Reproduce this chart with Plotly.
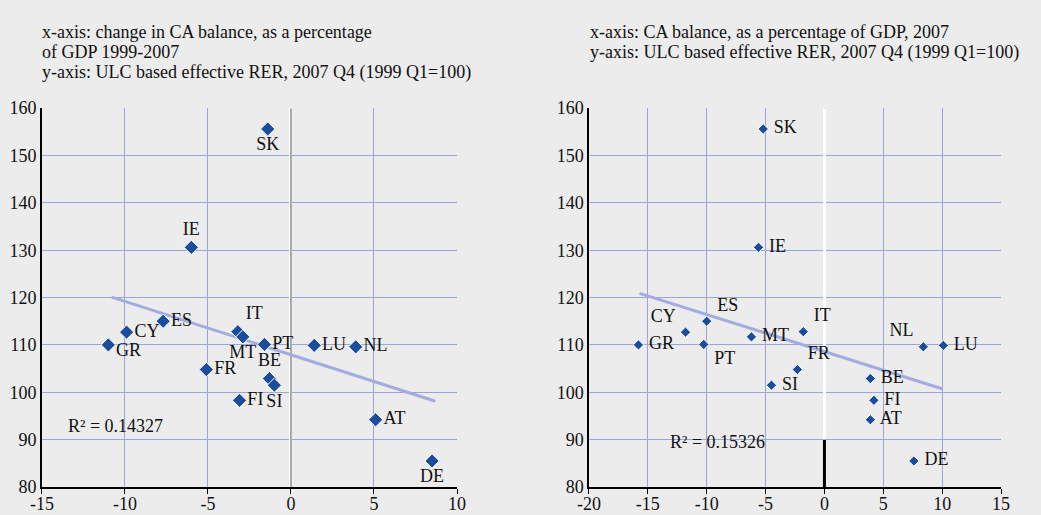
import plotly.graph_objects as go

# country codes and values
countries = ['GR', 'CY', 'ES', 'IE', 'FR', 'IT', 'MT', 'FI', 'PT', 'SK', 'BE', 'SI', 'LU', 'NL', 'AT', 'DE']
rer_2007q4 = [110.0, 112.7, 115.0, 130.6, 104.8, 112.8, 111.7, 98.3, 110.1, 155.6, 102.9, 101.5, 109.9, 109.6, 94.2, 85.5]
ca_change = [-11.0, -9.9, -7.7, -6.0, -5.1, -3.2, -2.9, -3.1, -1.6, -1.4, -1.3, -1.0, 1.4, 3.9, 5.1, 8.5]
ca_2007 = [-15.8, -11.8, -10.0, -5.6, -2.3, -1.8, -6.2, 4.2, -10.25, -5.2, 3.9, -4.5, 10.1, 8.4, 3.9, 7.6]

# linear trend end points
trend_left_x = [-10.8, 8.7]
trend_left_y = [120.1, 98.1]
trend_right_x = [-15.7, 10.05]
trend_right_y = [120.9, 100.7]

# tick labels
left_xticks = [-15, -10, -5, 0, 5, 10]
right_xticks = [-20, -15, -10, -5, 0, 5, 10, 15]

r2_left = 'R² = 0.14327'
r2_right = 'R² = 0.15326'

title_left = ['x-axis: change in CA balance, as a percentage',
              'of GDP 1999-2007',
              'y-axis: ULC based effective RER, 2007 Q4 (1999 Q1=100)']
title_right = ['x-axis: CA balance, as a percentage of GDP, 2007',
               'y-axis: ULC based effective RER, 2007 Q4 (1999 Q1=100)']

pos_left = {'GR': 'middle right', 'CY': 'middle right', 'ES': 'middle right', 'IE': 'top center',
            'FR': 'middle right', 'IT': 'top right', 'MT': 'bottom center', 'FI': 'middle right',
            'PT': 'middle right', 'SK': 'bottom center', 'BE': 'top center', 'SI': 'bottom center',
            'LU': 'middle right', 'NL': 'middle right', 'AT': 'middle right', 'DE': 'bottom center'}
pos_right = {'GR': 'middle right', 'CY': 'top left', 'ES': 'top right', 'IE': 'middle right',
             'FR': 'top right', 'IT': 'top right', 'MT': 'middle right', 'FI': 'middle right',
             'PT': 'bottom right', 'SK': 'middle right', 'BE': 'middle right', 'SI': 'middle right',
             'LU': 'middle right', 'NL': 'top left', 'AT': 'middle right', 'DE': 'middle right'}

FONT = 'Liberation Serif'
BG = '#ECECEC'
GRID = '#9AA4DC'
TREND = '#A3ACE0'
DOT = '#1A4E9C'
TXT = '#111111'

fig = go.Figure()

# GR label on the left panel sits a little lower, drawn separately below
left_text = ['' if c == 'GR' else c for c in countries]

fig.add_trace(go.Scatter(x=trend_left_x, y=trend_left_y, mode='lines',
                         line=dict(color=TREND, width=3), xaxis='x', yaxis='y'))
fig.add_trace(go.Scatter(x=ca_change, y=rer_2007q4, mode='markers+text', text=left_text,
                         textposition=[pos_left[c] for c in countries],
                         textfont=dict(family=FONT, size=18, color=TXT),
                         marker=dict(symbol='diamond', size=11, color=DOT, line=dict(color='white', width=1)),
                         xaxis='x', yaxis='y'))

fig.add_trace(go.Scatter(x=trend_right_x, y=trend_right_y, mode='lines',
                         line=dict(color=TREND, width=3), xaxis='x2', yaxis='y2'))
fig.add_trace(go.Scatter(x=ca_2007, y=rer_2007q4, mode='markers+text',
                         text=[' ' + c + ' ' for c in countries],
                         textposition=[pos_right[c] for c in countries],
                         textfont=dict(family=FONT, size=18, color=TXT),
                         marker=dict(symbol='diamond', size=8, color=DOT, line=dict(color='white', width=1)),
                         xaxis='x2', yaxis='y2'))

gr = countries.index('GR')
fig.add_annotation(text='GR', xref='x', yref='y', x=ca_change[gr], y=rer_2007q4[gr], xanchor='left',
                   yanchor='middle', xshift=6, yshift=-5, showarrow=False, font=dict(family=FONT, size=18))

ydom = [0.0544, 0.79]
xax = dict(showgrid=True, gridcolor=GRID, gridwidth=1, zeroline=True, zerolinecolor='white', zerolinewidth=3,
           showline=True, linecolor='black', linewidth=1.5, ticks='outside', ticklen=5, tickcolor='black',
           ticklabelstandoff=-5,
           tickfont=dict(family=FONT, size=18, color=TXT), automargin=False)
yax = dict(range=[80, 160], dtick=10, showgrid=True, gridcolor=GRID, gridwidth=1, zeroline=False,
           showline=True, linecolor='black', linewidth=1.5, ticks='', domain=ydom, automargin=False,
           tickfont=dict(family=FONT, size=18, color=TXT))
yax_r = dict(range=[80, 160], dtick=10, showgrid=False, zeroline=False, side='right', automargin=False,
             showline=True, linecolor='black', linewidth=1.5, ticks='',
             tickfont=dict(family=FONT, size=18, color=TXT))

fig.update_layout(
    width=1041, height=515, showlegend=False,
    paper_bgcolor=BG, plot_bgcolor=BG,
    margin=dict(l=0, r=0, t=0, b=0),
    font=dict(family=FONT, size=18, color=TXT),
    xaxis=dict(xax, range=[-15, 10], domain=[0.0403, 0.439], anchor='y',
               tickvals=left_xticks, ticktext=[str(v) for v in left_xticks]),
    yaxis=dict(yax, anchor='x'),
    xaxis2=dict(xax, range=[-20, 15], domain=[0.5658, 0.9616], anchor='y2', zeroline=False,
                tickvals=right_xticks, ticktext=[str(v) for v in right_xticks]),
    yaxis2=dict(yax, anchor='x2'),
    yaxis3=dict(yax_r, overlaying='y', anchor='x'),
    yaxis4=dict(yax_r, overlaying='y2', anchor='x2'),
)

# zero line of the right panel: white above 90, black below
fig.add_shape(type='line', xref='x2', yref='y2', x0=0, x1=0, y0=90, y1=160, layer='between',
              line=dict(color='white', width=3))
fig.add_shape(type='line', xref='x2', yref='y2', x0=0, x1=0, y0=80, y1=90, layer='between',
              line=dict(color='black', width=3))
fig.add_shape(type='line', xref='x', yref='y', x0=0, x1=0, y0=80, y1=160, layer='between',
              line=dict(color='#555', width=1))

fig.add_annotation(text=r2_left, xref='x', yref='y', x=-13.55, y=92.9, xanchor='left', showarrow=False,
                   font=dict(family=FONT, size=18))
fig.add_annotation(text=r2_right, xref='x2', yref='y2', x=-13.3, y=89.5, xanchor='left', showarrow=False,
                   font=dict(family=FONT, size=18))

for i, line in enumerate(title_left):
    fig.add_annotation(text=line, xref='paper', yref='paper', x=40 / 1041, y=1 - (32 + 20.5 * i) / 515,
                       xanchor='left', yanchor='middle', showarrow=False, font=dict(family=FONT, size=18))
for i, line in enumerate(title_right):
    fig.add_annotation(text=line, xref='paper', yref='paper', x=588 / 1041, y=1 - (32 + 20.5 * i) / 515,
                       xanchor='left', yanchor='middle', showarrow=False, font=dict(family=FONT, size=18))

fig.write_html("out.html", config={'displayModeBar': False},
               post_script="document.body.style.margin='0';document.body.style.overflow='hidden';")
